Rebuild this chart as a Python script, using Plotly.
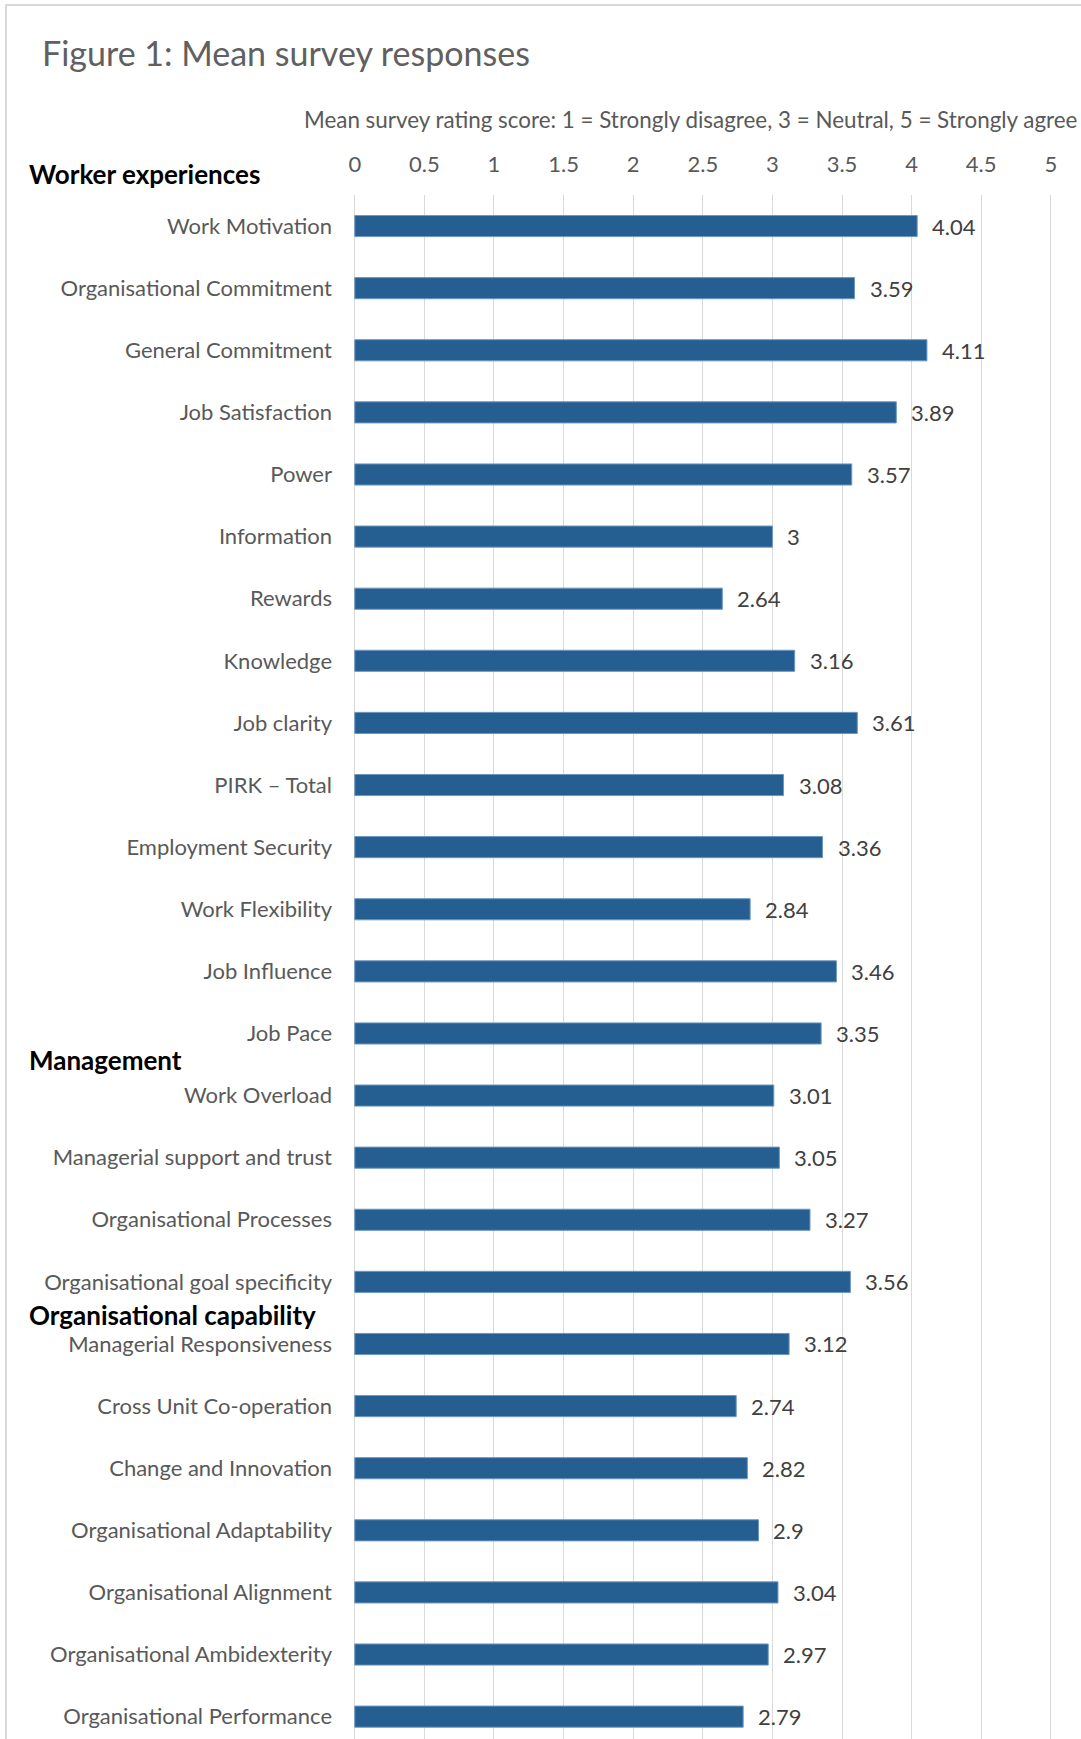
import plotly.graph_objects as go

categories = [
    "Work Motivation", "Organisational Commitment", "General Commitment",
    "Job Satisfaction", "Power", "Information", "Rewards", "Knowledge",
    "Job clarity", "PIRK – Total", "Employment Security", "Work Flexibility",
    "Job Influence", "Job Pace", "Work Overload", "Managerial support and trust",
    "Organisational Processes", "Organisational goal specificity",
    "Managerial Responsiveness", "Cross Unit Co-operation",
    "Change and Innovation", "Organisational Adaptability",
    "Organisational Alignment", "Organisational Ambidexterity",
    "Organisational Performance",
]
values = [4.04, 3.59, 4.11, 3.89, 3.57, 3.00, 2.64, 3.16, 3.61, 3.08, 3.36,
          2.84, 3.46, 3.35, 3.01, 3.05, 3.27, 3.56, 3.12, 2.74, 2.82, 2.90,
          3.04, 2.97, 2.79]
value_labels = ["4.04", "3.59", "4.11", "3.89", "3.57", "3", "2.64", "3.16",
                "3.61", "3.08", "3.36", "2.84", "3.46", "3.35", "3.01", "3.05",
                "3.27", "3.56", "3.12", "2.74", "2.82", "2.9", "3.04", "2.97",
                "2.79"]
x_ticks = [0, 0.5, 1, 1.5, 2, 2.5, 3, 3.5, 4, 4.5, 5]
x_tick_labels = ["0", "0.5", "1", "1.5", "2", "2.5", "3", "3.5", "4", "4.5", "5"]
section_names = ["Worker experiences", "Management", "Organisational capability"]
section_pixel_y = [174, 1060, 1315]

FONT = "Lato"
GREY = "#595959"
W, H = 1081, 1739
ML, MR, MT, MB = 352, 26, 195, 0
PW, PH = W - ML - MR, H - MT - MB


def px(x):
    return (x - ML) / PW


def py(y):
    return (H - MB - y) / PH


idx = list(range(len(categories)))

fig = go.Figure()
fig.add_trace(go.Bar(
    x=values, y=idx, orientation="h",
    width=0.34,
    marker=dict(color="#255e91", line=dict(color="#6d97c0", width=1)),
    hoverinfo="skip",
))

annotations = []
for v, lab, i in zip(values, value_labels, idx):
    annotations.append(dict(
        x=v, y=i, xref="x", yref="y", text=lab, showarrow=False,
        xanchor="left", yanchor="middle", xshift=13,
        font=dict(family=FONT, size=22, color="#404040"),
    ))
for name, yy in zip(section_names, section_pixel_y):
    annotations.append(dict(
        x=px(27), y=py(yy), xref="paper", yref="paper", text="<b>%s</b>" % name,
        showarrow=False, xanchor="left", yanchor="middle",
        font=dict(family=FONT, size=26, color="#000000"),
    ))
annotations.append(dict(
    x=px(690), y=py(119), xref="paper", yref="paper",
    text="Mean survey rating score: 1 = Strongly disagree, 3 = Neutral, 5 = Strongly agree",
    showarrow=False, xanchor="center", yanchor="middle",
    font=dict(family=FONT, size=22.4, color=GREY),
))
annotations.append(dict(
    x=px(40), y=py(53), xref="paper", yref="paper",
    text="Figure 1: Mean survey responses", showarrow=False,
    xanchor="left", yanchor="middle",
    font=dict(family=FONT, size=34, color="#606060"),
))

fig.update_layout(
    width=W, height=H,
    margin=dict(l=ML, r=MR, t=MT, b=MB, pad=0),
    paper_bgcolor="white", plot_bgcolor="white",
    showlegend=False,
    annotations=annotations,
    shapes=[dict(
        type="rect", xref="paper", yref="paper",
        x0=px(6), x1=px(W + 20),
        y0=-0.05, y1=py(5),
        line=dict(color="#d9d9d9", width=2), layer="below",
    )],
    xaxis=dict(
        side="top", range=[-0.02, 5.03], tickvals=x_ticks, ticktext=x_tick_labels,
        showgrid=True, gridcolor="#d9d9d9", gridwidth=1,
        zeroline=False,
        showline=False, ticks="",
        ticklabelstandoff=18,
        tickfont=dict(family=FONT, size=22, color=GREY),
        fixedrange=True,
    ),
    yaxis=dict(
        range=[24.36, -0.5], tickvals=idx, ticktext=categories,
        showgrid=False, zeroline=False, showline=False, ticks="",
        ticklabelstandoff=19,
        tickfont=dict(family=FONT, size=22, color=GREY),
        fixedrange=True,
    ),
)

fig.write_html(
    "out.html",
    config={"displayModeBar": False},
    post_script="document.body.style.margin='0';document.body.style.overflow='hidden';",
)
